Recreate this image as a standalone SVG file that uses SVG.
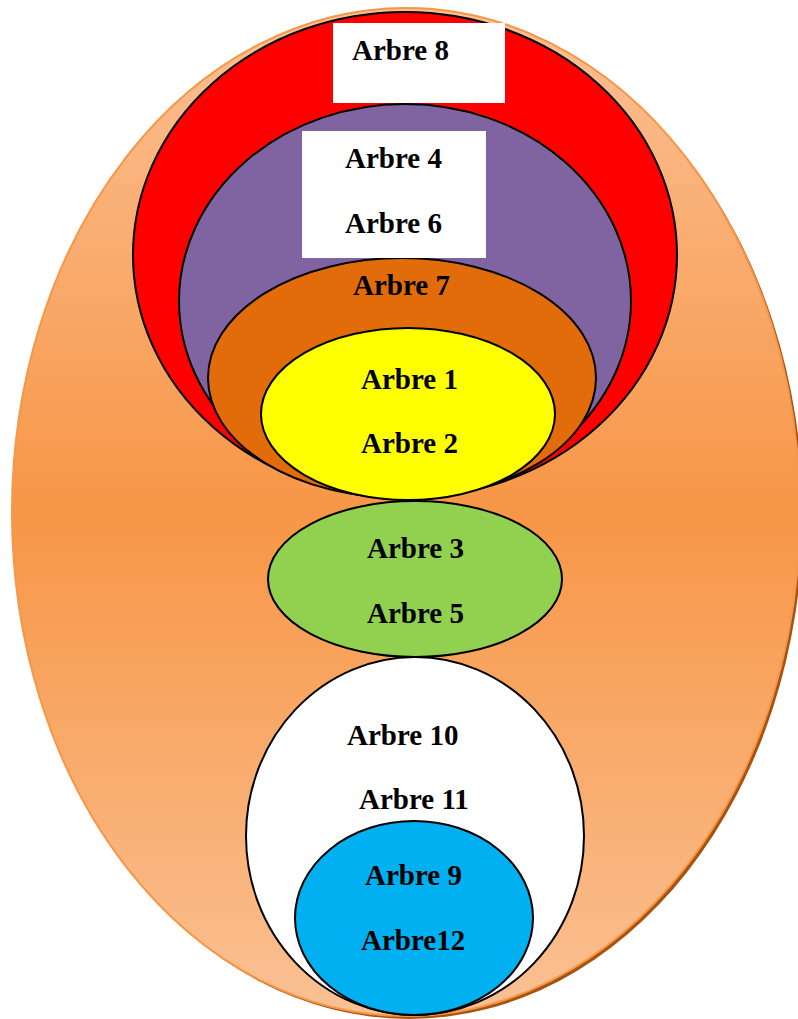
<svg xmlns="http://www.w3.org/2000/svg" width="798" height="1019" viewBox="0 0 798 1019">
<defs>
<linearGradient id="og" x1="0" y1="0" x2="0" y2="1">
<stop offset="0" stop-color="#FBC196"/>
<stop offset="0.5" stop-color="#F79646"/>
<stop offset="1" stop-color="#FAC194"/>
</linearGradient>
</defs>
<style>
.e{stroke:#000;stroke-width:2}
.t{font-family:"Liberation Serif","Times New Roman",serif;font-weight:bold;font-size:29px;fill:#000}
</style>
<g id="outer">
<ellipse cx="409" cy="515" rx="394" ry="504" fill="#A5530F"/>
<ellipse cx="406" cy="512" rx="394" ry="504" fill="url(#og)" stroke="#F79646" stroke-width="2"/>
</g>
<g id="arbre8">
<ellipse class="e" cx="405" cy="255" rx="272" ry="243" fill="#FF0000"/>
</g>
<g id="arbre46">
<ellipse class="e" cx="405" cy="301" rx="226" ry="197" fill="#8064A2"/>
</g>
<g id="arbre7">
<ellipse class="e" cx="402" cy="378" rx="194" ry="120" fill="#E36C0A"/>
</g>
<g id="arbre12node">
<ellipse class="e" cx="408" cy="414" rx="147" ry="86" fill="#FFFF00"/>
</g>
<g id="arbre35">
<ellipse class="e" cx="415" cy="579" rx="147" ry="78" fill="#92D050"/>
</g>
<g id="arbre1011">
<ellipse class="e" cx="415" cy="836" rx="169" ry="179" fill="#FFFFFF"/>
</g>
<g id="arbre912">
<ellipse class="e" cx="414" cy="918" rx="119" ry="97" fill="#00B0F0"/>
</g>
<g id="box8">
<rect x="333" y="23" width="172" height="80" fill="#FFFFFF"/>
<text class="t" x="352" y="60">Arbre 8</text>
</g>
<g id="box46">
<rect x="302" y="131" width="184" height="127" fill="#FFFFFF"/>
<text class="t" x="345" y="168">Arbre 4</text>
<text class="t" x="345" y="233">Arbre 6</text>
</g>
<g id="labels">
<text class="t" x="353" y="295">Arbre 7</text>
<text class="t" x="361" y="389">Arbre 1</text>
<text class="t" x="361" y="453">Arbre 2</text>
<text class="t" x="367" y="558">Arbre 3</text>
<text class="t" x="367" y="623">Arbre 5</text>
<text class="t" x="347" y="745">Arbre 10</text>
<text class="t" x="359" y="809">Arbre 11</text>
<text class="t" x="365" y="885">Arbre 9</text>
<text class="t" x="361" y="950">Arbre12</text>
</g>
<g id="connectors"></g>
</svg>
